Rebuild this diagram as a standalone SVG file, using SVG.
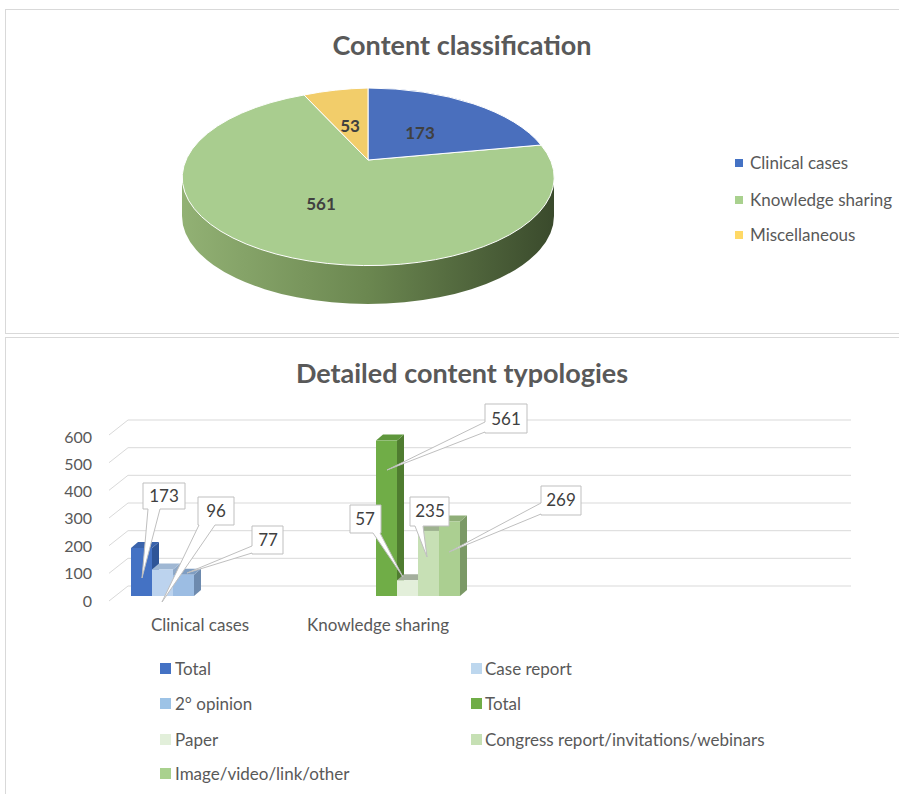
<svg xmlns="http://www.w3.org/2000/svg" width="899" height="794" viewBox="0 0 899 794">
<defs>
<style>
.t{font-family:Lato,"Liberation Sans",sans-serif;fill:#595959}
.title{font-size:27px;font-weight:bold;text-anchor:middle}
.lg{font-size:17px}
.pl{font-family:Lato,"Liberation Sans",sans-serif;font-size:17px;font-weight:bold;fill:#404040;text-anchor:middle}
.cl{font-family:Lato,"Liberation Sans",sans-serif;font-size:17px;fill:#404040;text-anchor:middle}
.co{fill:#fff;stroke:#bfbfbf;stroke-width:1}
.grid{fill:none;stroke:#d9d9d9;stroke-width:1}
.panel{fill:#fff;stroke:#d9d9d9;stroke-width:1}
.ax{font-size:16px;text-anchor:end}
</style>
<linearGradient id="side" x1="0" y1="0" x2="1" y2="0">
<stop offset="0" stop-color="#92b174"/>
<stop offset="0.5" stop-color="#6b8750"/>
<stop offset="1" stop-color="#3a4a2c"/>
</linearGradient>
</defs>
<rect width="899" height="794" fill="#fff"/>
<rect class="panel" x="5.5" y="9.5" width="900" height="324"/>
<rect class="panel" x="5.5" y="337.5" width="900" height="470"/>

<g id="pie-chart">
<text class="t title" x="462" y="55">Content classification</text>
<g id="pie">
<path d="M182,176 A186,88 0 0 0 554,176 L554,216 A186,88 0 0 1 182,216 Z" fill="url(#side)"/>
<path id="slice-knowledge" d="M368,160 L541,145 A186,88 0 1 1 304,95 Z" fill="#a9cd8f" stroke="#fff" stroke-width="1"/>
<path id="slice-clinical" d="M368,160 L368,88 A186,88 0 0 1 541,145 Z" fill="#4a6fbd" stroke="#fff" stroke-width="1"/>
<path id="slice-misc" d="M368,160 L304,95 A186,88 0 0 1 368,88 Z" fill="#f2cd6a" stroke="#fff" stroke-width="1"/>
<text class="pl" x="420" y="139">173</text>
<text class="pl" x="350" y="132">53</text>
<text class="pl" x="321" y="210">561</text>
</g>
<g id="pie-legend">
<rect x="735" y="159" width="8" height="8" fill="#4472c4"/>
<text class="t lg" x="750" y="169">Clinical cases</text>
<rect x="735" y="196" width="8" height="8" fill="#a9d18e"/>
<text class="t lg" x="750" y="206">Knowledge sharing</text>
<rect x="735" y="231" width="8" height="8" fill="#ffd966"/>
<text class="t lg" x="750" y="241">Miscellaneous</text>
</g>
</g>

<g id="bar-chart">
<text class="t title" x="462" y="383">Detailed content typologies</text>
<g id="gridlines">
<path class="grid" d="M109,435 L128,420 H851"/>
<path class="grid" d="M109,462.7 L128,447.7 H851"/>
<path class="grid" d="M109,490.3 L128,475.3 H851"/>
<path class="grid" d="M109,518 L128,503 H851"/>
<path class="grid" d="M109,545.7 L128,530.7 H851"/>
<path class="grid" d="M109,573.3 L128,558.3 H851"/>
<path class="grid" d="M109,601 L128,586 H851"/>
</g>
<g id="axis-labels">
<text class="t ax" x="92" y="443">600</text>
<text class="t ax" x="92" y="470">500</text>
<text class="t ax" x="92" y="497">400</text>
<text class="t ax" x="92" y="524">300</text>
<text class="t ax" x="92" y="552">200</text>
<text class="t ax" x="92" y="579">100</text>
<text class="t ax" x="92" y="607">0</text>
</g>
<g id="bars-clinical">
<path d="M152,548 L159,542 V590 L152,596 Z" fill="#2f5597"/>
<path d="M131,548 L138,542 H159 L152,548 Z" fill="#3a63ab"/>
<rect x="131" y="548" width="21" height="48" fill="#4472c4"/>
<path d="M173,569.4 L180,563.4 V590 L173,596 Z" fill="#8fa9c8"/>
<path d="M152,569.4 L159,563.4 H180 L173,569.4 Z" fill="#9fb7d3"/>
<rect x="152" y="569.4" width="21" height="26.6" fill="#bcd3ee"/>
<path d="M194,574.7 L201,568.7 V590 L194,596 Z" fill="#6d8aae"/>
<path d="M173,574.7 L180,568.7 H201 L194,574.7 Z" fill="#7e9dc2"/>
<rect x="173" y="574.7" width="21" height="21.3" fill="#9cbde3"/>
</g>
<g id="bars-knowledge">
<path d="M397,440.6 L404,434.6 V590 L397,596 Z" fill="#4f7c30"/>
<path d="M376,440.6 L383,434.6 H404 L397,440.6 Z" fill="#5f973c"/>
<rect x="376" y="440.6" width="21" height="155.4" fill="#70ad47"/>
<path d="M418,580.2 L425,574.2 V590 L418,596 Z" fill="#a9b8a0"/>
<path d="M397,580.2 L404,574.2 H425 L418,580.2 Z" fill="#a3ae9c"/>
<rect x="397" y="580.2" width="21" height="15.8" fill="#e3efda"/>
<path d="M439,530.9 L446,524.9 V590 L439,596 Z" fill="#9bb08c"/>
<path d="M418,530.9 L425,524.9 H446 L439,530.9 Z" fill="#9eb28f"/>
<rect x="418" y="530.9" width="21" height="65.1" fill="#c7e0b5"/>
<path d="M460,521.5 L467,515.5 V590 L460,596 Z" fill="#7b9966"/>
<path d="M439,521.5 L446,515.5 H467 L460,521.5 Z" fill="#8fae78"/>
<rect x="439" y="521.5" width="21" height="74.5" fill="#abcf91"/>
</g>
<g id="callouts">
<g id="lbl-173"><path class="co" d="M143,483 H185 V509 H160 L142,578 L148,509 H143 Z"/><text class="cl" x="164" y="502">173</text></g>
<g id="lbl-96"><path class="co" d="M198,497 H234 V525 H215 L162,602 L199,525 H198 Z"/><text class="cl" x="216" y="517">96</text></g>
<g id="lbl-77"><path class="co" d="M252,526 H283 V554 H252 V553 L187,573 L252,546 Z"/><text class="cl" x="268" y="546">77</text></g>
<g id="lbl-561"><path class="co" d="M485,404 H527 V433 H485 V432 L387,470 L485,422 Z"/><text class="cl" x="506" y="425">561</text></g>
<g id="lbl-57"><path class="co" d="M350,505 H381 V533 H380 L403,577 L373,533 H350 Z"/><text class="cl" x="365" y="525">57</text></g>
<g id="lbl-235"><path class="co" d="M410,497 H449 V526 H423 L427,557 L415,526 H410 Z"/><text class="cl" x="430" y="517">235</text></g>
<g id="lbl-269"><path class="co" d="M541,486 H581 V515 H541 V514 L449,552 L541,503 Z"/><text class="cl" x="561" y="506">269</text></g>
</g>
<text class="t lg" x="200" y="631" text-anchor="middle">Clinical cases</text>
<text class="t lg" x="378" y="631" text-anchor="middle">Knowledge sharing</text>
<g id="bar-legend">
<rect x="160" y="663" width="11" height="11" fill="#4472c4"/>
<text class="t lg" x="175" y="675">Total</text>
<rect x="471" y="663" width="11" height="11" fill="#bdd7ee"/>
<text class="t lg" x="485" y="675">Case report</text>
<rect x="160" y="698" width="11" height="11" fill="#9dc3e6"/>
<text class="t lg" x="175" y="710">2° opinion</text>
<rect x="471" y="698" width="11" height="11" fill="#70ad47"/>
<text class="t lg" x="485" y="710">Total</text>
<rect x="160" y="734" width="11" height="11" fill="#e2efda"/>
<text class="t lg" x="175" y="746">Paper</text>
<rect x="471" y="734" width="11" height="11" fill="#c6e0b4"/>
<text class="t lg" x="485" y="746">Congress report/invitations/webinars</text>
<rect x="160" y="768" width="11" height="11" fill="#a9d18e"/>
<text class="t lg" x="175" y="780">Image/video/link/other</text>
</g>
</g>
</svg>
